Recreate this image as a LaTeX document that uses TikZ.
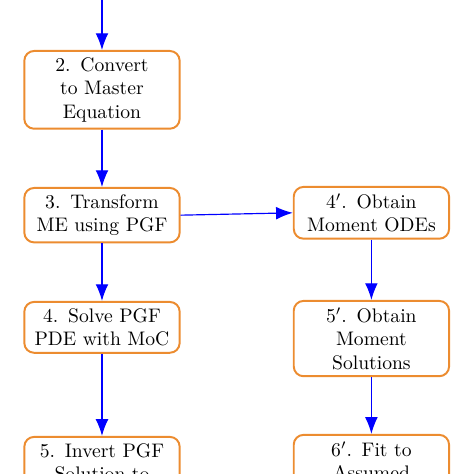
\documentclass[tikz,border=0pt]{standalone}
\usepackage{tikz}
\usetikzlibrary{shapes, arrows.meta}

\definecolor{boxorange}{RGB}{236,140,48}

\begin{document}
\begin{tikzpicture}[stage/.style={rectangle, draw=boxorange, line width=1pt, rounded corners=5pt, text width=2.55cm, align=center, anchor=north, fill=white},
		flow/.style={draw=blue, line width=0.6pt, -{Latex[length=8.5pt, width=6.5pt]}}]
		\useasboundingbox (0, 0) rectangle (8.496, -8.496);
		\clip (0, 0) rectangle (8.496, -8.496);
		\coordinate(START) at (1.828, 0.3);
		\node(STEP2) at (1.828, -0.896)[stage]{2. Convert\\to Master\\Equation};
		\node(STEP3) at (1.828, -3.351)[stage]{3. Transform\\ME using PGF};
		\node(STEP4) at (1.828, -5.394)[stage]{4. Solve PGF\\PDE with MoC};
		\node(STEP5) at (1.828, -7.813)[stage]{5. Invert PGF\\Solution to};
		\node(STEP4P) at (6.657, -3.333)[stage]{$4'$. Obtain\\Moment ODEs};
		\node(STEP5P) at (6.657, -5.376)[stage]{$5'$. Obtain\\Moment\\Solutions};
		\node(STEP6P) at (6.657, -7.777)[stage]{$6'$. Fit to\\Assumed};
		\draw[flow] (START)--(STEP2);
		\draw[flow] (STEP2)--(STEP3);
		\draw[flow] (STEP3)--(STEP4);
		\draw[flow] (STEP4)--(STEP5);
		\draw[flow] (STEP3.east)--(STEP4P.west);
		\draw[flow] (STEP4P)--(STEP5P);
		\draw[flow] (STEP5P)--(STEP6P);
\end{tikzpicture}
\end{document}
